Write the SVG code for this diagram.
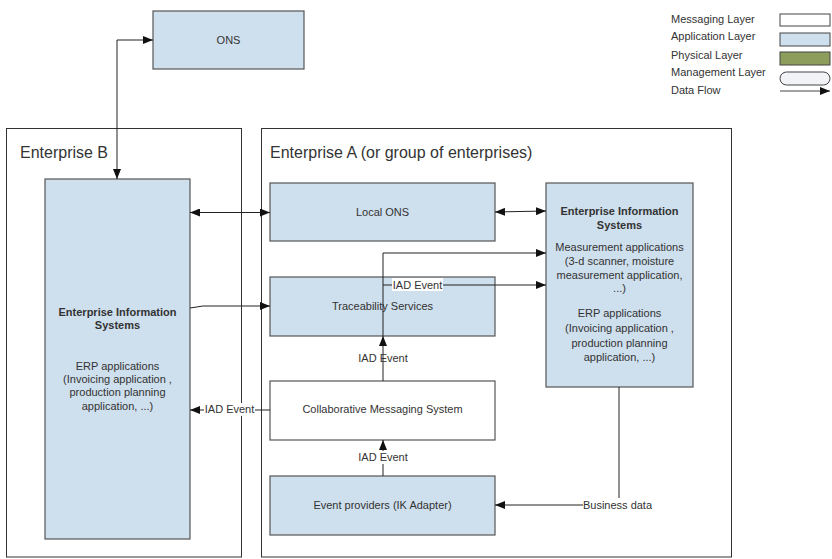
<svg xmlns="http://www.w3.org/2000/svg" width="832" height="559" viewBox="0 0 832 559">
<defs>
<style>
text{font-family:"Liberation Sans",Arial,sans-serif;fill:#333;}
.t{font-size:11px;text-anchor:middle;}
.b{font-weight:bold;}
.big{font-size:16px;}
.leg{font-size:11px;}
.app{fill:#cedfed;stroke:#555;stroke-width:1.2;}
.msg{fill:#fff;stroke:#555;stroke-width:1.2;}
.frame{fill:none;stroke:#333;stroke-width:1;}
.c{fill:none;stroke:#222;stroke-width:1;}
.lbl{fill:#fff;}
</style>
<marker id="ah" viewBox="0 0 10 8" refX="10" refY="4" markerWidth="10" markerHeight="8" markerUnits="userSpaceOnUse" orient="auto-start-reverse">
<path d="M0,0 L10,4 L0,8 Z" fill="#111"/>
</marker>
</defs>

<g id="enterpriseB"><rect class="frame" x="6.5" y="128.5" width="235" height="428.5"/><text class="big" x="20" y="158">Enterprise B</text></g>
<g id="enterpriseA"><rect class="frame" x="261.5" y="128.5" width="470" height="428.5"/><text class="big" x="270" y="158">Enterprise A (or group of enterprises)</text></g>

<g id="ons"><rect class="app" x="153" y="11" width="151" height="58"/><text class="t" x="228.5" y="44">ONS</text></g>

<g id="eisB"><rect class="app" x="45" y="179" width="145" height="360"/>
<text class="t b" x="117.5" y="316">Enterprise Information</text>
<text class="t b" x="117.5" y="329">Systems</text>
<text class="t" x="117.5" y="370">ERP applications</text>
<text class="t" x="117.5" y="383">(Invoicing application ,</text>
<text class="t" x="117.5" y="396">production planning</text>
<text class="t" x="117.5" y="410">application, ...)</text>
</g>

<g id="localOns"><rect class="app" x="270" y="183" width="225" height="58"/><text class="t" x="382.5" y="216">Local ONS</text></g>
<g id="traceability"><rect class="app" x="270" y="277" width="225" height="59"/><text class="t" x="382.5" y="310">Traceability Services</text></g>
<g id="cms"><rect class="msg" x="270" y="381" width="225" height="59"/><text class="t" x="382.5" y="413">Collaborative Messaging System</text></g>
<g id="eventProviders"><rect class="app" x="270" y="476" width="225" height="59"/><text class="t" x="382.5" y="509">Event providers (IK Adapter)</text></g>

<g id="eisA"><rect class="app" x="546" y="183" width="147" height="204"/>
<text class="t b" x="619.5" y="215">Enterprise Information</text>
<text class="t b" x="619.5" y="229">Systems</text>
<text class="t" x="619.5" y="251">Measurement applications</text>
<text class="t" x="619.5" y="265">(3-d scanner, moisture</text>
<text class="t" x="619.5" y="279">measurement application,</text>
<text class="t" x="619.5" y="292">...)</text>
<text class="t" x="619.5" y="317">ERP applications</text>
<text class="t" x="619.5" y="332">(Invoicing application ,</text>
<text class="t" x="619.5" y="347">production planning</text>
<text class="t" x="619.5" y="361">application, ...)</text>
</g>

<g id="connectors">
<path class="c" d="M117,179 V40 H153" marker-start="url(#ah)" marker-end="url(#ah)"/>
<path class="c" d="M190,212.5 H270" marker-start="url(#ah)" marker-end="url(#ah)"/>
<path class="c" d="M495,212 L546,211" marker-start="url(#ah)" marker-end="url(#ah)"/>
<path class="c" d="M190,308 L203,306 H270" marker-end="url(#ah)"/>
<path class="c" d="M383,381 V336" marker-end="url(#ah)"/>
<path class="c" d="M383,336 V253 H546" marker-end="url(#ah)"/>
<path class="c" d="M383,285 H546" marker-end="url(#ah)"/>
<path class="c" d="M270,410 H190" marker-end="url(#ah)"/>
<path class="c" d="M383,476 V440" marker-end="url(#ah)"/>
<path class="c" d="M619,387 V505 H495" marker-end="url(#ah)"/>

<rect class="lbl" x="392" y="278" width="51" height="13"/>
<text class="t" x="417.5" y="288.5">IAD Event</text>
<text class="t" x="383" y="362">IAD Event</text>
<rect class="lbl" x="204" y="403" width="51" height="13"/>
<text class="t" x="229.5" y="413">IAD Event</text>
<rect class="lbl" x="358" y="451" width="51" height="13"/>
<text class="t" x="383" y="461">IAD Event</text>
<rect class="lbl" x="583" y="498" width="69" height="14"/>
<text class="t" x="617.5" y="509">Business data</text>
</g>

<g id="legend">
<text class="leg" x="671" y="23">Messaging Layer</text>
<text class="leg" x="671" y="40">Application Layer</text>
<text class="leg" x="671" y="59">Physical Layer</text>
<text class="leg" x="671" y="76">Management Layer</text>
<text class="leg" x="671" y="94">Data Flow</text>
<rect x="780" y="14" width="50" height="12" fill="#fff" stroke="#444" stroke-width="1"/>
<rect x="780" y="33" width="50" height="13" fill="#cedfed" stroke="#444" stroke-width="1"/>
<rect x="780" y="52" width="50" height="13" fill="#8d9e5c" stroke="#444" stroke-width="1"/>
<rect x="780" y="72" width="50" height="13" rx="6.5" fill="#f2f3f6" stroke="#444" stroke-width="1"/>
<path d="M780,91 H830" stroke="#444" stroke-width="1" marker-end="url(#ah)"/>
</g>
</svg>
